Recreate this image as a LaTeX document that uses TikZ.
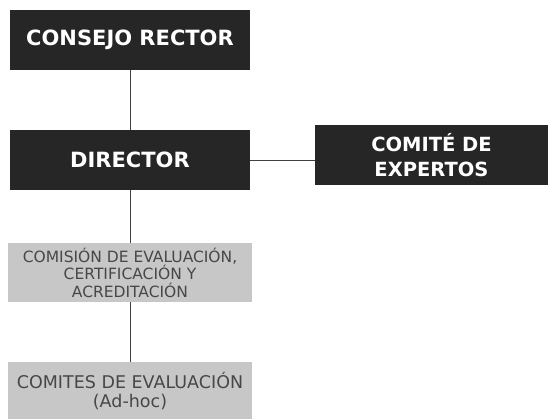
\documentclass[tikz,border=0pt]{standalone}
\usepackage{fontspec}
\setmainfont{DejaVu Sans}
\begin{document}
\begin{tikzpicture}[x=1pt,y=-1pt,
  darkbox/.style={fill=black!85, draw=none, text=white, font=\bfseries\fontsize{21}{24}\selectfont, align=center, inner sep=0pt},
  greybox/.style={fill=black!22, draw=none, text=black!72, align=center, inner sep=0pt},
  link/.style={draw=black!75, line width=0.8pt}]
\useasboundingbox (0,0) rectangle (548,418);
\node[darkbox, minimum width=240, minimum height=60] (cr) at (130,40) {CONSEJO RECTOR};
\node[darkbox, minimum width=240, minimum height=60] (dir) at (130,160) {DIRECTOR};
\node[darkbox, minimum width=233, minimum height=60, font=\bfseries\fontsize{19.5}{25}\selectfont] (ce) at (431.5,155) {COMITÉ DE\\EXPERTOS};
\node[greybox, minimum width=244, minimum height=59, font=\fontsize{15.5}{17.5}\selectfont] (cec) at (130,272.5) {COMISIÓN DE EVALUACIÓN,\\CERTIFICACIÓN Y\\ACREDITACIÓN};
\node[greybox, minimum width=244, minimum height=58, font=\fontsize{17.5}{19.5}\selectfont] (cev) at (130,391) {COMITES DE EVALUACIÓN\\(Ad-hoc)};
\draw[link] (cr.south) -- (dir.north);
\draw[link] (dir.south) -- (cec.north);
\draw[link] (cec.south) -- (cev.north);
\draw[link] (dir.east) -- (dir.east -| ce.west);
\end{tikzpicture}
\end{document}
